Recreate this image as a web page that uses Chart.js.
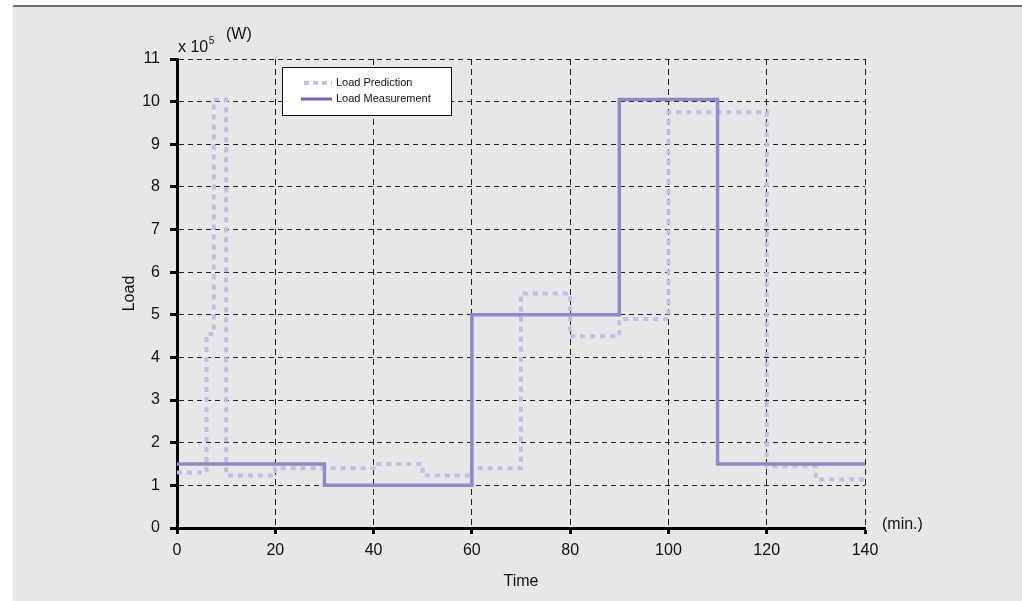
<!DOCTYPE html>
<html>
<head>
<meta charset="utf-8">
<script src="https://cdn.jsdelivr.net/npm/chart.js@4.4.1/dist/chart.umd.min.js"></script>
<style>
  html, body { margin: 0; padding: 0; background: #fff; }
  canvas { display: block; }
</style>
</head>
<body>
<canvas id="chart" width="1022" height="601"></canvas>
<script>
// time in minutes where each step starts (last entry closes the line)
const predTimes = [ 0, 6, 7.5, 10, 20, 40, 50, 60, 70, 80, 90, 100, 120, 130, 140 ];
const predLoad  = [ 1.3, 4.55, 10.05, 1.23, 1.4, 1.5, 1.23, 1.4, 5.5, 4.5, 4.9, 9.75, 1.45, 1.14, 1.14 ];

const measTimes = [ 0, 30, 60, 90, 110, 140 ];
const measLoad  = [ 1.5, 1.0, 5.0, 10.05, 1.5, 1.5 ];

const xTicks = [ 0, 20, 40, 60, 80, 100, 120, 140 ];
const yTicks = [ 0, 1, 2, 3, 4, 5, 6, 7, 8, 9, 10, 11 ];

const PRED_COLOUR = '#c3c0e3';
const MEAS_COLOUR = '#8f89c6';
const FONT = '"Liberation Sans", Arial, sans-serif';

const toPoints = ( xs, ys ) => xs.map( ( x, i ) => ( { x, y: ys[ i ] } ) );

const frame = {
    id: 'frame',
    beforeDraw( chart ) {
        const { ctx, width, height } = chart;
        ctx.save();
        ctx.fillStyle = '#ffffff';
        ctx.fillRect( 0, 0, width, height );
        ctx.fillStyle = '#e6e7e9';
        ctx.fillRect( 13, 6, width - 13, height - 6 );
        ctx.fillStyle = '#6d6e70';
        ctx.fillRect( 13, 5, width - 13, 2 );
        ctx.restore();
    },
    afterDraw( chart ) {
        const { ctx, chartArea: a } = chart;
        ctx.save();
        ctx.fillStyle = '#111';
        ctx.textBaseline = 'alphabetic';
        ctx.textAlign = 'left';

        // unit label above the y axis
        ctx.font = '16px ' + FONT;
        ctx.fillText( 'x 10', a.left + 1, a.top - 7 );
        const w = ctx.measureText( 'x 10' ).width;
        ctx.font = '10px ' + FONT;
        ctx.fillText( '5', a.left + 1.5 + w, a.top - 15 );
        ctx.font = '16px ' + FONT;
        ctx.fillText( '(W)', a.left + 49, a.top - 20 );

        // unit label after the x axis
        ctx.textBaseline = 'middle';
        ctx.fillText( '(min.)', a.right + 17, a.bottom - 3 );

        // legend box
        const lx = a.left + 105, ly = a.top + 8;
        ctx.fillStyle = '#fff';
        ctx.fillRect( lx, ly, 170, 49 );
        ctx.strokeStyle = '#111';
        ctx.lineWidth = 1;
        ctx.strokeRect( lx + 0.5, ly + 0.5, 169, 48 );

        ctx.lineWidth = 4;
        ctx.strokeStyle = PRED_COLOUR;
        ctx.setLineDash( [ 5, 4 ] );
        ctx.beginPath();
        ctx.moveTo( lx + 22, ly + 16 );
        ctx.lineTo( lx + 50, ly + 16 );
        ctx.stroke();

        ctx.setLineDash( [] );
        ctx.lineWidth = 3;
        ctx.strokeStyle = '#6c66ae';
        ctx.beginPath();
        ctx.moveTo( lx + 19, ly + 32 );
        ctx.lineTo( lx + 50, ly + 32 );
        ctx.stroke();

        ctx.fillStyle = '#111';
        ctx.font = '11px ' + FONT;
        ctx.fillText( 'Load Prediction', lx + 54, ly + 16 );
        ctx.fillText( 'Load Measurement', lx + 54, ly + 32 );
        ctx.restore();
    },
};

new Chart( document.getElementById( 'chart' ), {
    type: 'line',
    data: {
        datasets: [
            {
                label: 'Load Prediction',
                data: toPoints( predTimes, predLoad ),
                stepped: 'before',
                borderColor: PRED_COLOUR,
                borderWidth: 4,
                borderDash: [ 5, 5 ],
                pointRadius: 0,
                fill: false,
                order: 1,
            },
            {
                label: 'Load Measurement',
                data: toPoints( measTimes, measLoad ),
                stepped: 'before',
                borderColor: MEAS_COLOUR,
                borderWidth: 3.5,
                pointRadius: 0,
                fill: false,
                order: 0,
            },
        ],
    },
    options: {
        responsive: false,
        animation: false,
        events: [],
        layout: { padding: { left: 0, top: 59, right: 157, bottom: 0 } },
        plugins: { legend: { display: false }, tooltip: { enabled: false } },
        scales: {
            x: {
                type: 'linear',
                min: 0,
                max: 140,
                afterBuildTicks: ( s ) => { s.ticks = xTicks.map( ( v ) => ( { value: v } ) ); },
                afterFit: ( s ) => { s.height = 73; },
                ticks: { color: '#111', font: { family: FONT, size: 16 }, padding: 7, maxRotation: 0 },
                grid: { color: '#222', lineWidth: 1, tickLength: 6, tickWidth: 3, tickColor: '#000', tickBorderDash: [] },
                border: { display: true, color: '#000', width: 3, dash: [ 6, 4 ] },
                title: { display: true, text: 'Time', color: '#111', font: { family: FONT, size: 16 }, padding: { top: 0, bottom: 10 } },
            },
            y: {
                min: 0,
                max: 11,
                afterBuildTicks: ( s ) => { s.ticks = yTicks.map( ( v ) => ( { value: v } ) ); },
                afterFit: ( s ) => { s.width = 177; },
                ticks: { color: '#111', font: { family: FONT, size: 16 }, padding: 10 },
                grid: { color: '#222', lineWidth: 1, tickLength: 7, tickWidth: 3, tickColor: '#000', tickBorderDash: [] },
                border: { display: true, color: '#000', width: 3, dash: [ 5, 4 ] },
                title: { display: true, text: 'Load', color: '#111', font: { family: FONT, size: 16 }, padding: { top: 120, bottom: 0 } },
            },
        },
    },
    plugins: [ frame ],
} );
</script>
</body>
</html>
